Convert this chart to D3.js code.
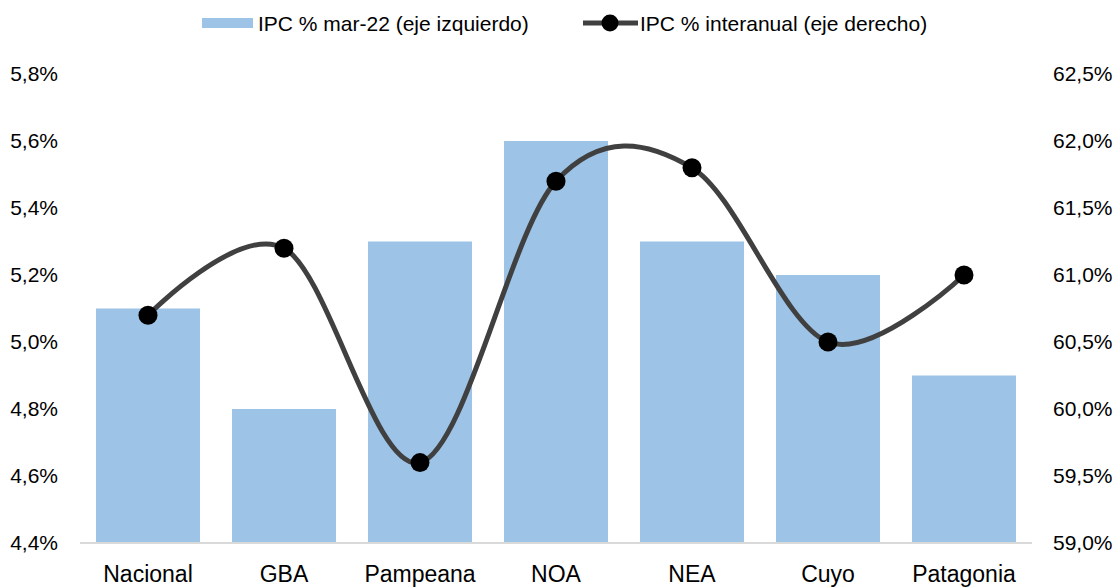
<!DOCTYPE html>
<html><head><meta charset="utf-8">
<script src="https://cdn.jsdelivr.net/npm/d3@7"></script>
<style>body{margin:0;background:#fff}svg{display:block}text{font-family:"Liberation Sans",Arial,sans-serif;fill:#000}</style>
</head><body><svg id="c" width="1118" height="587"></svg>
<script>
const categories=["Nacional","GBA","Pampeana","NOA","NEA","Cuyo","Patagonia"];
const ipcMensual=[5.1,4.8,5.3,5.6,5.3,5.2,4.9];
const ipcInteranual=[60.7,61.2,59.6,61.7,61.8,60.5,61.0];
const leftTicks=[4.4,4.6,4.8,5.0,5.2,5.4,5.6,5.8];
const rightTicks=[59.0,59.5,60.0,60.5,61.0,61.5,62.0,62.5];
const seriesNames=["IPC % mar-22 (eje izquierdo)","IPC % interanual (eje derecho)"];

const svg=d3.select("#c");
const L=80,R=1032,T=74,B=543;
const x=d3.scaleBand().domain(categories).range([L,R]).paddingInner(0.235).paddingOuter(0.1175);
const yL=d3.scaleLinear().domain([4.4,5.8]).range([B,T]);
const yR=d3.scaleLinear().domain([59,62.5]).range([B,T]);
const fmt1=v=>v.toFixed(1).replace(".",",")+"%";

// bars
svg.append("g").selectAll("rect").data(categories).join("rect")
 .attr("x",d=>x(d)).attr("width",x.bandwidth())
 .attr("y",(d,i)=>yL(ipcMensual[i])).attr("height",(d,i)=>B-yL(ipcMensual[i]))
 .attr("fill","#9dc3e6");

// baseline
svg.append("line").attr("x1",L).attr("x2",R).attr("y1",B).attr("y2",B).attr("stroke","#d9d9d9").attr("stroke-width",2);

// left axis
const gl=svg.append("g").attr("transform",`translate(${L},0)`).call(d3.axisLeft(yL).tickValues(leftTicks).tickFormat(fmt1).tickSize(0).tickPadding(0));
gl.select(".domain").remove();
gl.selectAll("text").attr("x",-22).style("font-size","21px").style("font-family","Liberation Sans, Arial");
// right axis
const gr=svg.append("g").attr("transform",`translate(${R},0)`).call(d3.axisRight(yR).tickValues(rightTicks).tickFormat(fmt1).tickSize(0).tickPadding(0));
gr.select(".domain").remove();
gr.selectAll("text").attr("x",21).style("font-size","21px").style("font-family","Liberation Sans, Arial");
// bottom axis
const gb=svg.append("g").attr("transform",`translate(0,${B})`).call(d3.axisBottom(x).tickSize(0).tickPadding(0));
gb.select(".domain").remove();
gb.selectAll("text").attr("y",23).attr("dy","0.71em").style("font-size","23px").style("font-family","Liberation Sans, Arial");
svg.selectAll(".tick text").attr("fill","#000");

// line
const cx=d=>x(d)+x.bandwidth()/2;
const line=d3.line().x(d=>cx(d)).y((d,i)=>yR(ipcInteranual[i])).curve(d3.curveCardinal.tension(0));
svg.append("path").datum(categories).attr("d",line).attr("fill","none").attr("stroke","#404040").attr("stroke-width",5);
svg.append("g").selectAll("circle").data(categories).join("circle")
 .attr("cx",cx).attr("cy",(d,i)=>yR(ipcInteranual[i])).attr("r",9.5).attr("fill","#000");

// legend
const lg=svg.append("g");
lg.append("rect").attr("x",202).attr("y",18).attr("width",51).attr("height",10).attr("fill","#9dc3e6");
lg.append("text").attr("x",258).attr("y",31).style("font-size","21px").text(seriesNames[0]);
lg.append("line").attr("x1",583).attr("x2",638).attr("y1",23).attr("y2",23).attr("stroke","#404040").attr("stroke-width",5);
lg.append("circle").attr("cx",610).attr("cy",23).attr("r",8.5).attr("fill","#000");
lg.append("text").attr("x",640).attr("y",31).style("font-size","21px").text(seriesNames[1]);
</script></body></html>
